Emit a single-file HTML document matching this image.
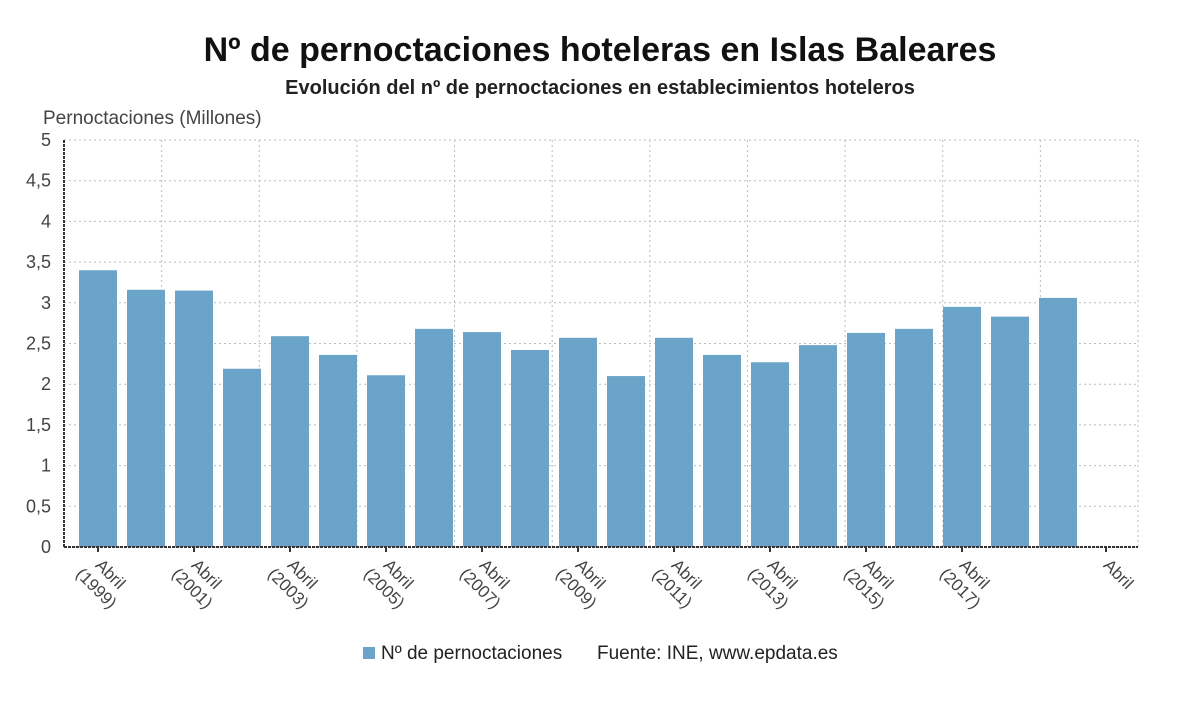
<!DOCTYPE html>
<html><head><meta charset="utf-8"><style>
body{margin:0;background:#fff;width:1200px;height:705px;overflow:hidden;font-family:"Liberation Sans",sans-serif;}
</style></head><body>
<svg id="c" width="1200" height="705" xmlns="http://www.w3.org/2000/svg">
<text x="600" y="61" text-anchor="middle" font-size="34" font-weight="bold" fill="#111">Nº de pernoctaciones hoteleras en Islas Baleares</text>
<text x="600" y="94" text-anchor="middle" font-size="20" font-weight="bold" fill="#222">Evolución del nº de pernoctaciones en establecimientos hoteleros</text>
<text x="43" y="124" font-size="19" fill="#444">Pernoctaciones (Millones)</text>
<g id="grid"></g><g id="bars"></g><g id="axes"></g>
<g>
<rect x="363" y="647" width="12" height="12" fill="#6aa4c8"/>
<text x="381" y="659" font-size="19" fill="#222">Nº de pernoctaciones</text>
<text x="597" y="659" font-size="19" fill="#222">Fuente: INE, www.epdata.es</text>
</g>
</svg>
<script>
const years=["1999","2000","2001","2002","2003","2004","2005","2006","2007","2008","2009","2010","2011","2012","2013","2014","2015","2016","2017","2018","2019","2020"];
const values=[3.40,3.16,3.15,2.19,2.59,2.36,2.11,2.68,2.64,2.42,2.57,2.10,2.57,2.36,2.27,2.48,2.63,2.68,2.95,2.83,3.06,0];
const yTicks=[0,0.5,1,1.5,2,2.5,3,3.5,4,4.5,5];
const yTickLabels=["0","0,5","1","1,5","2","2,5","3","3,5","4","4,5","5"];
const NS="http://www.w3.org/2000/svg";
const L=64,R=1138,T=140,B=547;
const y=v=>B-(v/5)*(B-T);
const x=i=>98+48*i;
function mk(tag,attrs,parent,txt){const e=document.createElementNS(NS,tag);for(const k in attrs)e.setAttribute(k,attrs[k]);if(txt!=null)e.textContent=txt;document.getElementById(parent).appendChild(e);return e;}
yTicks.forEach((t,i)=>{
 const g=mk("line",{x1:L,x2:R,y1:y(t),y2:y(t),stroke:"#bbb","stroke-dasharray":"2,3"},"grid");
 
 
 const lb=mk("text",{x:51,y:y(t)+6,"text-anchor":"end","font-size":"18",fill:"#444"},"axes",yTickLabels[i]);
 
 
});
for(let k=1;k<=11;k++){
 const gx=L+(R-L)*k/11;
 const g=mk("line",{x1:gx,x2:gx,y1:T,y2:B,stroke:"#bbb","stroke-dasharray":"2,3"},"grid");
 
 
}
values.forEach((v,i)=>{
 const r=mk("rect",{x:x(i)-19,y:y(v),width:38,height:B-y(v),fill:"#6aa4c8"},"bars");
 
 
});
const ax=mk("line",{x1:L,x2:R,y1:B,y2:B,stroke:"#333","stroke-width":"2","stroke-dasharray":"3,1"},"axes");


const ay=mk("line",{x1:L,x2:L,y1:T,y2:B,stroke:"#333","stroke-width":"2","stroke-dasharray":"3,1"},"axes");


years.forEach((yr,i)=>{
 const last=i===years.length-1;
 if(!last&&(i%2!==0||i>=20))return;
 const tk=mk("line",{x1:x(i),x2:x(i),y1:B,y2:B+5,stroke:"#333","stroke-width":"2"},"axes");
 
 
 const t=mk("text",{transform:`translate(${x(i)},${B}) rotate(45)`,"font-size":"17","text-anchor":"middle",fill:"#444"},"axes");
 
 
 const a=document.createElementNS(NS,"tspan");a.setAttribute("x","28");a.setAttribute("y","16");a.textContent="Abril";t.appendChild(a);
 if(!last){const b=document.createElementNS(NS,"tspan");b.setAttribute("x","28");b.setAttribute("y","36");b.textContent="("+yr+")";t.appendChild(b);}
});
</script>
</body></html>
